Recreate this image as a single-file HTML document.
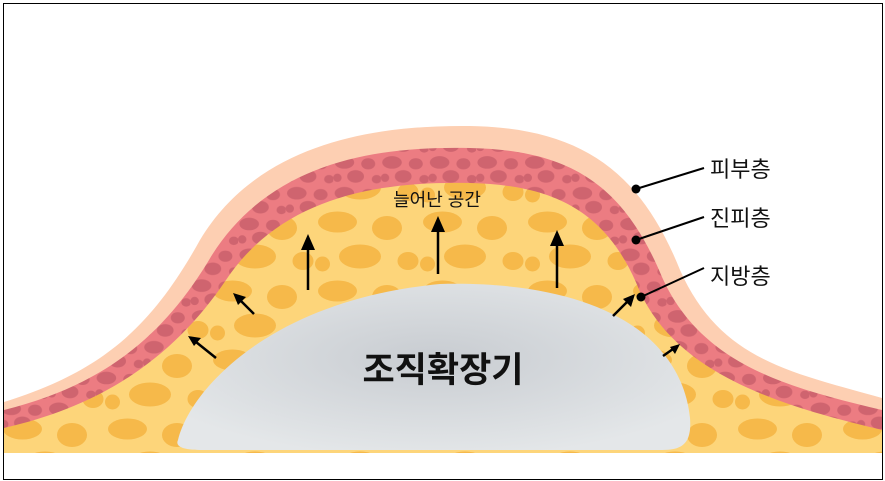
<!DOCTYPE html>
<html><head><meta charset="utf-8"><style>
html,body{margin:0;padding:0;background:#fff;}
svg{display:block;}
text{font-family:"Liberation Sans","Noto Sans CJK KR",sans-serif;}
</style></head><body>
<svg width="885" height="481" viewBox="0 0 885 481" xmlns="http://www.w3.org/2000/svg">
<defs>
<pattern id="pd" width="34" height="22" patternUnits="userSpaceOnUse" patternTransform="scale(1.4)">
<rect width="34" height="22" fill="#ec7c82"/>
<ellipse cx="8" cy="6" rx="7" ry="4.5" fill="#cf646f"/>
<ellipse cx="25" cy="7" rx="5" ry="4" fill="#cf646f"/>
<ellipse cx="16" cy="16" rx="6" ry="4.5" fill="#cf646f"/>
<ellipse cx="31" cy="18" rx="3.5" ry="3" fill="#cf646f"/>
<ellipse cx="3" cy="17" rx="3" ry="3" fill="#cf646f"/>
</pattern>
<pattern id="pf" width="70" height="46" patternUnits="userSpaceOnUse" patternTransform="scale(1.5)">
<rect width="70" height="46" fill="#fdd57a"/>
<ellipse cx="15" cy="10" rx="13" ry="7" fill="#f6b94a"/>
<ellipse cx="48" cy="14" rx="10" ry="8" fill="#f6b94a"/>
<ellipse cx="30" cy="33" rx="14" ry="8" fill="#f6b94a"/>
<ellipse cx="62" cy="36" rx="7" ry="6" fill="#f6b94a"/>
<ellipse cx="5" cy="38" rx="5" ry="5" fill="#f6b94a"/>
</pattern>
<radialGradient id="gx" cx="0.5" cy="0.45" r="0.6">
<stop offset="0" stop-color="#c8ccd1"/><stop offset="1" stop-color="#e4e7e9"/>
</radialGradient>
</defs>
<rect x="0" y="0" width="885" height="481" fill="#fff"/>
<path d="M4,402 C100,372 150,330 200,240 C260,140 380,125 470,126 C580,128 640,170 680,270 C720,360 790,372 882,398 L882,453 L4,453Z" fill="#fdcfb2"/>
<path d="M4,410 C100,386 162,340 212,255 C272,160 380,146 470,148 C572,150 624,186 662,277 C702,366 790,388 882,410 L882,453 L4,453Z" fill="url(#pd)"/>
<path d="M4,428 C100,406 172,360 226,280 C282,196 380,181 470,183 C560,185 610,216 640,292 C680,378 790,408 882,430 L882,453 L4,453Z" fill="url(#pf)"/>
<path d="M178,440 C190,390 270,300 440,284 C605,280 682,340 690,418 C692,444 682,450 662,450 L200,450 C182,450 175,446 178,440Z" fill="url(#gx)"/>
<g stroke="#000" stroke-width="2.5" fill="none">
<line x1="308" y1="290" x2="308" y2="240"/>
<line x1="438" y1="274" x2="438" y2="222"/>
<line x1="557" y1="288" x2="557" y2="236"/>
</g>
<g fill="#000">
<path d="M301,250 L308,234 L315,250Z"/>
<path d="M431,232 L438,216 L445,232Z"/>
<path d="M550,246 L557,230 L564,246Z"/>
</g>
<g stroke="#000" stroke-width="2.5">
<line x1="216" y1="358" x2="196" y2="342"/>
<line x1="254" y1="314" x2="240" y2="300"/>
<line x1="613" y1="316" x2="628" y2="301"/>
<line x1="663" y1="356" x2="673" y2="349"/>
</g>
<g fill="#000">
<path d="M188,336 L201,338 L194,346Z"/>
<path d="M233,293 L246,297 L238,305Z"/>
<path d="M635,294 L631,307 L623,299Z"/>
<path d="M680,344 L675,354 L670,347Z"/>
</g>
<text x="437" y="206" font-size="18" text-anchor="middle" fill="#111">늘어난 공간</text>
<text x="443" y="382" font-size="35" font-weight="bold" text-anchor="middle" fill="#111">조직확장기</text>
<g stroke="#000" stroke-width="2">
<line x1="636" y1="189" x2="704" y2="168"/>
<line x1="636" y1="240" x2="704" y2="217"/>
<line x1="641" y1="297" x2="704" y2="268"/>
</g>
<circle cx="636" cy="189" r="4.5" fill="#000"/>
<circle cx="636" cy="240" r="4.5" fill="#000"/>
<circle cx="641" cy="297" r="4.5" fill="#000"/>
<text x="710" y="177" font-size="22" fill="#111">피부층</text>
<text x="710" y="226" font-size="22" fill="#111">진피층</text>
<text x="710" y="284" font-size="22" fill="#111">지방층</text>
<rect x="3.5" y="3.5" width="879" height="476" fill="none" stroke="#000" stroke-width="1"/>
</svg>
</body></html>
